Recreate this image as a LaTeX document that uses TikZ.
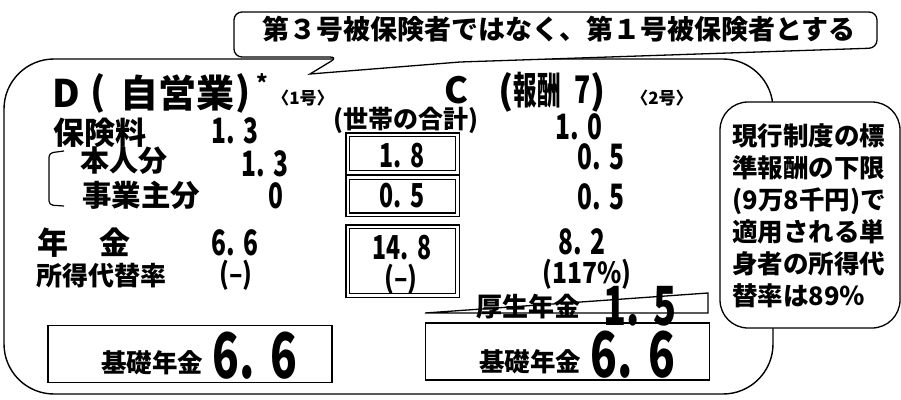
\documentclass[tikz,border=0pt]{standalone}
\usepackage{fontspec}
\setmainfont{Noto Sans CJK JP}
\newcommand\fsz[1]{\fontsize{#1}{#1}\selectfont}
\newcommand\nm[1]{\scalebox{0.7}[1]{#1}}
\newcommand\nmw[1]{\scalebox{0.85}[1]{#1}}
\newcommand\dd{.\hspace{0.35em}}
\begin{document}
\begin{tikzpicture}[x=1pt,y=-1pt,line width=1.3pt,font=\bfseries,
  txt/.style={inner sep=0pt,outer sep=0pt,anchor=center},
  dbox/.style={draw,double=white,double distance=2.5pt,line width=1.2pt,inner sep=0pt,minimum width=109.5},
  sbox/.style={draw,line width=1.5pt,inner sep=0pt,minimum width=284,minimum height=57},
]
\useasboundingbox (0,0) rectangle (901,399);
% main rounded frame
\node[draw,line width=1.4pt,rounded corners=50,minimum width=769,minimum height=335,inner sep=0pt] (main) at (388.5,226.5) {};
% top callout
\draw[fill=white,line width=1.3pt] (500,12) [rounded corners=8] -- (234,12) -- (234,57) -- (338,57) [sharp corners] -- (310,74) -- (460,62) [rounded corners=8] -- (877,48) -- (877,12) -- cycle;
\node[txt] (ctext) at (559,29) {\fsz{27}第３号被保険者ではなく、第１号被保険者とする};
% right callout
\node[draw,fill=white,line width=1.3pt,rounded corners=28,minimum width=180,minimum height=226,inner sep=0pt] (rc) at (810,215) {};
\node[txt,align=left,font={\bfseries\fontsize{25.5}{32}\selectfont}] (rctext) at (809,216) {現行制度の標\\準報酬の下限\\(9万8千円)で\\適用される単\\身者の所得代\\替率は89％};
% titles
\node[txt] (dD) at (66,93) {\fsz{38}D};
\node[txt] (dP1) at (98,93) {\fsz{38}(};
\node[txt] (dJ) at (177,93) {\fsz{38}自営業};
\node[txt] (dP2) at (243,93) {\fsz{38})};
\node[txt] (dStar) at (262,83) {\fsz{22}*};
\node[txt] (d1) at (303,98) {\fsz{17}〈1号〉};
\node[txt] (cC) at (456,90) {\fsz{36}C};
\node[txt] (cP1) at (506,92) {\fsz{38}(};
\node[txt] (cJ) at (537,90) {\fsz{38}\scalebox{0.62}[1]{報酬}};
\node[txt] (c7) at (583,90) {\fsz{38}\nm{7}};
\node[txt] (cP2) at (598,92) {\fsz{38})};
\node[txt] (c2) at (662,98) {\fsz{17}〈2号〉};
\node[txt] (setai) at (406,120) {\fsz{25}(世帯の合計)};
% row labels
\node[txt] (hok) at (100,133) {\fsz{31}保険料};
\node[txt] (hon) at (124,161) {\fsz{29}本人分};
\node[txt] (jig) at (141,195) {\fsz{29.5}事業主分};
\node[txt] (nen) at (84,243) {\fsz{31}年　金};
\node[txt] (sho) at (101,276) {\fsz{26}所得代替率};
\draw[line width=1.2pt,rounded corners=4] (64,151) -- (49,153) -- (49,205) -- (64,206);
% D values
\node[txt] (dv1) at (235,131) {\fsz{35}\nm{1\dd3}};
\node[txt] (dv2) at (265,164) {\fsz{35}\nm{1\dd3}};
\node[txt] (dv3) at (276,196) {\fsz{35}\nm{0}};
\node[txt] (dv4) at (235,243) {\fsz{35}\nm{6\dd6}};
\node[txt] (dv5) at (236,275) {\fsz{29}\nmw{(–)}};
% C values
\node[txt] (cv1) at (579,127) {\fsz{35}\nm{1\dd0}};
\node[txt] (cv2) at (601,157) {\fsz{35}\nm{0\dd5}};
\node[txt] (cv3) at (601,197) {\fsz{35}\nm{0\dd5}};
\node[txt] (cv4) at (582,242) {\fsz{35}\nm{8\dd2}};
\node[txt] (cv5) at (587,274) {\fsz{29}\nmw{(117\%)}};
% household boxes
\node[dbox,minimum height=37.5] (b1) at (402.5,153.5) {};
\node[dbox,minimum height=37.5] (b2) at (402.5,196) {};
\node[dbox,minimum height=68.5] (b3) at (402.5,261) {};
\node[txt] (b1t) at (402,156) {\fsz{33}\nm{1\dd8}};
\node[txt] (b2t) at (402,196) {\fsz{33}\nm{0\dd5}};
\node[txt] (b3t) at (402,248) {\fsz{33}\nm{14\dd8}};
\node[txt] (b3u) at (401,279) {\fsz{29}\nmw{(–)}};
% basic pension boxes
\node[sbox] (kl) at (190,354) {};
\node[sbox] (kr) at (567.5,351.5) {};
\node[txt] (klt) at (152,363) {\fsz{25.5}基礎年金};
\node[txt] (kln) at (255,356) {\fsz{63}\nm{6\dd6}};
\node[txt] (krt) at (530,362) {\fsz{25.5}基礎年金};
\node[txt] (krn) at (633,355) {\fsz{63}\nm{6\dd6}};
% employee pension (struck)
\node[txt] (kos) at (528,307) {\fsz{26}厚生年金};
\node[txt] (kon) at (640,306) {\fsz{54}\nm{1\dd5}};
\coordinate (w1) at (425,313);
\coordinate (w2) at (708,293);
\coordinate (w3) at (708,313);
\draw[line width=1.3pt] (w1) -- (w2) -- (w3) -- cycle;
\end{tikzpicture}
\end{document}
